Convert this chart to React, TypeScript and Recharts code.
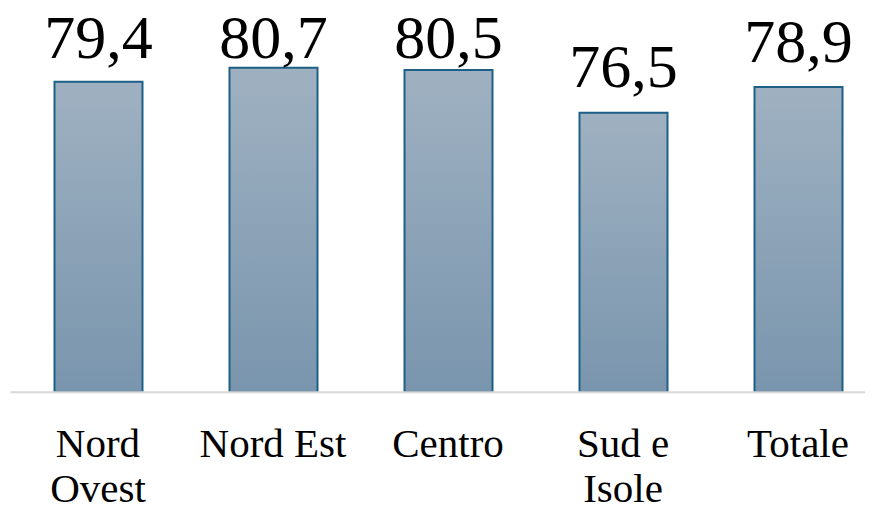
import React from "react";
import { BarChart, Bar, XAxis, YAxis, LabelList } from "recharts";

const categories = ["Nord Ovest", "Nord Est", "Centro", "Sud e Isole", "Totale"];
const values = [79.4, 80.7, 80.5, 76.5, 78.9];

const data = categories.map((name, i) => ({ name, value: values[i] }));

const FONT = "Liberation Serif";
const TICK_SIZE = 41;
const MAX_LINE = 172;

let ctx: CanvasRenderingContext2D | null = null;
function measure(s: string): number {
  if (!ctx) {
    const c = document.createElement("canvas");
    ctx = c.getContext("2d");
  }
  if (!ctx) return s.length * TICK_SIZE * 0.5;
  ctx.font = TICK_SIZE + "px Liberation Serif";
  return ctx.measureText(s).width;
}

function wrap(label: string): string[] {
  const words = label.split(" ");
  const lines: string[] = [];
  let cur = "";
  for (const w of words) {
    const test = cur ? cur + " " + w : w;
    if (cur && measure(test) > MAX_LINE) {
      lines.push(cur);
      cur = w;
    } else {
      cur = test;
    }
  }
  if (cur) lines.push(cur);
  return lines;
}

const CategoryTick = (props: any) => {
  const { x, payload } = props;
  const axisY = 384.3;
  const lines = wrap(String(payload.value));
  return (
    <text
      x={x}
      y={axisY + 64.7}
      textAnchor="middle"
      fill="#000"
      fontFamily={FONT}
      fontSize={TICK_SIZE}
      style={{ fontSize: TICK_SIZE, fontFamily: FONT }}
    >
      {lines.map((l, i) => (
        <tspan key={i} x={x} dy={i === 0 ? 0 : 45}>
          {l}
        </tspan>
      ))}
    </text>
  );
};

const ValueLabel = (props: any) => {
  const { x, y, width, value } = props;
  const baseline = Math.max(y - 25.5, 50);
  return (
    <text
      x={x + width / 2}
      y={baseline}
      textAnchor="middle"
      fill="#000"
      fontFamily={FONT}
      fontSize={62}
      style={{ fontSize: 62, fontFamily: FONT }}
    >
      {String(value).replace(".", ",")}
    </text>
  );
};

export default function App() {
  return (
    <div style={{ width: 865, overflow: "hidden" }}>
      <BarChart
        width={880}
        height={500}
        data={data}
        margin={{ top: 13.7, right: 2.5, bottom: 0, left: 2.5 }}
        barSize={88}
      >
        <defs>
          <linearGradient id="barGrad" x1="0" y1="0" x2="0" y2="1">
            <stop offset="0%" stopColor="#9fb1c1" />
            <stop offset="100%" stopColor="#7995ad" />
          </linearGradient>
        </defs>
        <YAxis hide domain={[50.4, 85]} allowDataOverflow />
        <XAxis
          dataKey="name"
          height={115.7}
          tickLine={false}
          axisLine={{ stroke: "#d9d9d9", strokeWidth: 2 }}
          tick={<CategoryTick />}
          interval={0}
        />
        <Bar
          dataKey="value"
          fill="url(#barGrad)"
          stroke="#1d5f86"
          strokeWidth={2}
          isAnimationActive={false}
        >
          <LabelList dataKey="value" content={<ValueLabel />} />
        </Bar>
      </BarChart>
    </div>
  );
}
